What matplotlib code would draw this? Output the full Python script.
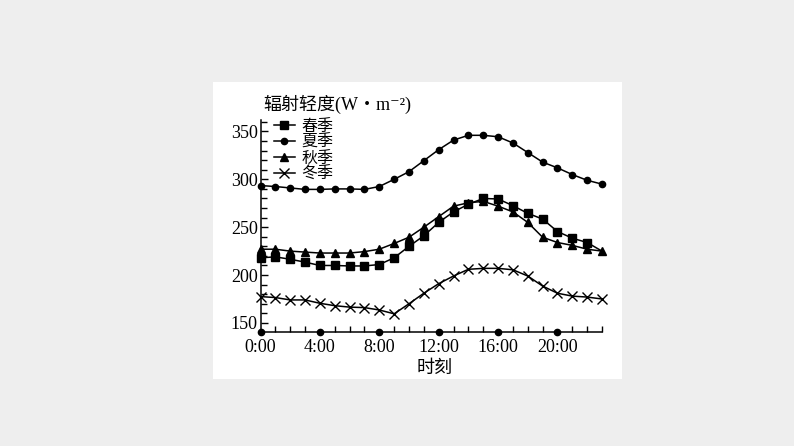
import matplotlib
matplotlib.use("Agg")
import matplotlib.pyplot as plt
from matplotlib.patches import Rectangle
from matplotlib.ticker import MultipleLocator

plt.rcParams['font.family'] = ['Liberation Serif', 'Noto Sans CJK SC', 'DejaVu Sans']

hours = list(range(24))
spring = [218, 219, 216.5, 213.5, 210, 210, 209.5, 209.5, 211, 218, 230, 241, 255, 266,
          274, 280, 279.5, 272.5, 264.5, 258.5, 245.5, 238.5, 234, 225]
summer = [293.5, 292.5, 291, 289.5, 289.5, 290, 290, 289.5, 292.5, 300, 308, 319.5,
          331, 341, 346, 346, 344.5, 338, 328, 318, 312, 305, 299, 295]
autumn = [227, 227, 225, 224, 223, 223, 223, 224.5, 227, 233, 239.5, 250, 261, 272,
          275.5, 277, 272, 266, 255, 239.5, 234, 231, 227, 225]
winter = [177.5, 176.5, 174, 174, 170.5, 168, 166.5, 166, 163.5, 159.5, 170, 181, 191,
          199, 206, 207, 207, 205.5, 199, 188.5, 181, 178, 177, 175]
series_names = ['春季', '夏季', '秋季', '冬季']
xtick_pos = [0, 4, 8, 12, 16, 20]
xtick_labels = ['0:00', '4:00', '8:00', '12:00', '16:00', '20:00']
ytick_pos = [150, 200, 250, 300, 350]

W, H = 794, 446
fig = plt.figure(figsize=(W / 100, H / 100), dpi=100, facecolor='#eeeeee')
# white card behind the chart
fig.patches.append(Rectangle((213 / W, 1 - 379 / H), (622 - 213) / W, (379 - 82) / H,
                             transform=fig.transFigure, facecolor='white',
                             edgecolor='none', zorder=-10))

ax = fig.add_axes([260.5 / W, 1 - 332 / H, (602 - 260.5) / W, (332 - 120) / H])
ax.set_facecolor('none')
ax.set_zorder(5)

kw = dict(color='black', lw=1.1, clip_on=False)
ax.plot(hours, spring, marker='s', ms=6, markevery=list(range(23)), label=series_names[0], **kw)
ax.plot(hours, summer, marker='o', ms=4.5, label=series_names[1], **kw)
ax.plot(hours, autumn, marker='^', ms=6, label=series_names[2], **kw)
ax.plot(hours, winter, marker='x', ms=6.5, mew=1.0, label=series_names[3], **kw)

ax.set_xlim(0, 23)
ax.set_ylim(140.5, 362)
for s in ['top', 'right']:
    ax.spines[s].set_visible(False)
for s in ['left', 'bottom']:
    ax.spines[s].set_linewidth(1.1)

ax.set_xticks(xtick_pos)
ax.set_xticklabels(xtick_labels)
ax.xaxis.set_minor_locator(MultipleLocator(1))
ax.set_yticks(ytick_pos)
ax.yaxis.set_minor_locator(MultipleLocator(10))
ax.tick_params(axis='both', which='both', direction='in', labelsize=13, width=1.0)
ax.tick_params(axis='both', which='major', length=5, pad=2)
ax.tick_params(axis='both', which='minor', length=4)
ax.tick_params(axis='x', which='major', length=0, pad=5)
# dots marking the major hours on the time axis
ax.plot(xtick_pos, [0] * len(xtick_pos), 'o', color='black', ms=4.5,
        transform=ax.get_xaxis_transform(), clip_on=False)

fig.text(263 / W, 1 - 104 / H, '辐射轻度(W・m⁻²)', fontsize=13, va='center', ha='left')
fig.text(435 / W, 1 - 368 / H, '时刻', fontsize=13, va='center', ha='center')

ax.legend(loc='upper left', bbox_to_anchor=(274 / W, 1 - 119 / H),
          bbox_transform=fig.transFigure, frameon=False, fontsize=11.5,
          handlelength=1.3, handletextpad=0.4, labelspacing=0.0, borderpad=0,
          borderaxespad=0)

fig.savefig('out.png', dpi=100, facecolor=fig.get_facecolor())
